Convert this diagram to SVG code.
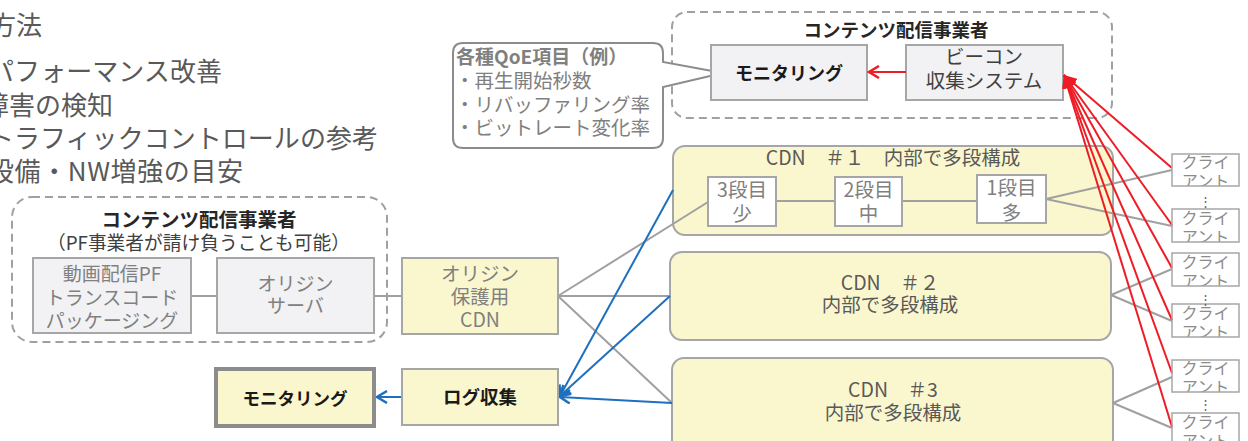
<svg xmlns="http://www.w3.org/2000/svg" width="1248" height="441" viewBox="0 0 1248 441">
<defs>
<style>
text{font-family:"Noto Sans CJK JP","Noto Sans",sans-serif;}
.c{text-anchor:middle}
.t{fill:#595959}
.g{fill:#808080}
.d{fill:#404040}
.bt{font-weight:bold;fill:#262626}
.bk{font-weight:bold;fill:#1a1a1a}
.box{stroke:#A6A6A6;stroke-width:2}
.yel{fill:#FAF7CF}
.gry{fill:#F2F2F4}
.wht{fill:#FFFFFF}
.dash{fill:none;stroke:#A0A0A0;stroke-width:2;stroke-dasharray:8 5}
.ln{stroke:#A0A0A0;stroke-width:2;fill:none}
.blue{stroke:#1F6FBF;stroke-width:2;fill:none}
.red{stroke:#EE1C25;stroke-width:2;fill:none}
.f195{font-size:19.5px}
.cl{font-size:16px;fill:#8C8C8C;text-anchor:middle}
</style>
<marker id="ab" viewBox="0 0 14 14" markerWidth="14" markerHeight="14" refX="12" refY="7" orient="auto" markerUnits="userSpaceOnUse">
<path d="M2,1 L12,7 L2,13" fill="none" stroke="#1F6FBF" stroke-width="2.5"/>
</marker>
<marker id="ar" viewBox="0 0 14 14" markerWidth="14" markerHeight="14" refX="12" refY="7" orient="auto" markerUnits="userSpaceOnUse">
<path d="M2,1 L12,7 L2,13" fill="none" stroke="#EE1C25" stroke-width="2.5"/>
</marker>
<marker id="arf" viewBox="0 0 14 12" markerWidth="14" markerHeight="12" refX="13" refY="6" orient="auto" markerUnits="userSpaceOnUse">
<path d="M0,0 L13,6 L0,12 Z" fill="#EE1C25"/>
</marker>
</defs>

<g id="heading-text" class="t" style="font-size:26px">
<text x="-10" y="35">方法</text>
<text x="-12" y="81" textLength="234" lengthAdjust="spacing">パフォーマンス改善</text>
<text x="-17" y="115" textLength="130" lengthAdjust="spacing">障害の検知</text>
<text x="-12" y="148" textLength="390" lengthAdjust="spacing">トラフィックコントロールの参考</text>
<text x="-12" y="181" textLength="255" lengthAdjust="spacing">設備・NW増強の目安</text>
</g>

<g id="top-provider">
<rect class="dash" x="672" y="12" width="440" height="106" rx="15"/>
<text class="bt c" x="896" y="37" style="font-size:18.5px">コンテンツ配信事業者</text>
</g>

<g id="qoe-callout">
<path d="M463,43 H653 Q663,43 663,53 V62 L723,73 L663,87 V138 Q663,148 653,148 H463 Q453,148 453,138 V53 Q453,43 463,43 Z" fill="#FFFFFF" stroke="#8C8C8C" stroke-width="2"/>
<text class="g" x="456" y="64" style="font-size:19px;font-weight:bold">各種QoE項目（例）</text>
<text class="g f195" x="455" y="88">・再生開始秒数</text>
<text class="g f195" x="455" y="112">・リバッファリング率</text>
<text class="g f195" x="455" y="135">・ビットレート変化率</text>
</g>

<g id="monitoring-top">
<rect class="box gry" x="711" y="45" width="156" height="55"/>
<text class="bk c" x="789" y="80" style="font-size:18px">モニタリング</text>
</g>

<g id="beacon">
<rect class="box gry" x="906" y="45" width="157" height="55"/>
<text class="d c f195" x="984" y="64">ビーコン</text>
<text class="d c f195" x="984" y="88">収集システム</text>
</g>

<g id="left-provider">
<rect class="dash" x="12" y="197" width="375" height="145" rx="20"/>
<text class="bt c" x="199" y="227" style="font-size:19.5px">コンテンツ配信事業者</text>
<text class="d" x="47" y="250" style="font-size:19px" textLength="303" lengthAdjust="spacingAndGlyphs">（PF事業者が請け負うことも可能）</text>
</g>

<g id="cdn1">
<rect class="box yel" x="673" y="146" width="440" height="89" rx="12"/>
<text class="t c f195" x="893" y="165">CDN　＃１　内部で多段構成</text>
</g>
<g id="cdn2">
<rect class="box yel" x="670" y="252" width="441" height="88" rx="12"/>
<text class="t c f195" x="890" y="290">CDN　＃２</text>
<text class="t c f195" x="890" y="312">内部で多段構成</text>
</g>
<g id="cdn3">
<rect class="box yel" x="672" y="358" width="441" height="96" rx="12"/>
<text class="t c f195" x="893" y="397">CDN　＃3</text>
<text class="t c f195" x="893" y="420">内部で多段構成</text>
</g>

<g id="connectors">
<line class="ln" x1="191" y1="296" x2="217" y2="296"/>
<line class="ln" x1="374" y1="296" x2="402" y2="296"/>
<line class="ln" x1="558" y1="296" x2="708" y2="202"/>
<line class="ln" x1="558" y1="296" x2="670" y2="296"/>
<line class="ln" x1="558" y1="296" x2="672" y2="403"/>
<line class="ln" x1="776" y1="201" x2="835" y2="201"/>
<line class="ln" x1="902" y1="201" x2="977" y2="201"/>
<line class="ln" x1="1046" y1="199" x2="1172" y2="170"/>
<line class="ln" x1="1046" y1="199" x2="1172" y2="226"/>
<line class="ln" x1="1111" y1="295" x2="1172" y2="269"/>
<line class="ln" x1="1111" y1="295" x2="1172" y2="321"/>
<line class="ln" x1="1113" y1="403" x2="1172" y2="377"/>
<line class="ln" x1="1113" y1="403" x2="1172" y2="428"/>
<line class="blue" x1="673" y1="190" x2="560" y2="396" marker-end="url(#ab)"/>
<line class="blue" x1="670" y1="296" x2="560" y2="396" marker-end="url(#ab)"/>
<line class="blue" x1="672" y1="403" x2="560" y2="397" marker-end="url(#ab)"/>
<line class="blue" x1="402" y1="397" x2="377" y2="397" marker-end="url(#ab)"/>
<line class="red" x1="906" y1="72" x2="869" y2="72" marker-end="url(#ar)"/>
<line class="red" x1="1172" y1="168" x2="1064" y2="75" marker-end="url(#arf)"/>
<line class="red" x1="1172" y1="225" x2="1064" y2="75" marker-end="url(#arf)"/>
<line class="red" x1="1172" y1="268" x2="1064" y2="75" marker-end="url(#arf)"/>
<line class="red" x1="1172" y1="320" x2="1064" y2="75" marker-end="url(#arf)"/>
<line class="red" x1="1172" y1="373" x2="1064" y2="75" marker-end="url(#arf)"/>
<line class="red" x1="1172" y1="427" x2="1064" y2="75" marker-end="url(#arf)"/>
</g>

<g id="stage3">
<rect class="box wht" x="708" y="177" width="68" height="49"/>
<text class="g c f195" x="742" y="197">3段目</text>
<text class="g c f195" x="742" y="221">少</text>
</g>
<g id="stage2">
<rect class="box wht" x="835" y="177" width="67" height="49"/>
<text class="g c f195" x="868.5" y="197">2段目</text>
<text class="g c f195" x="868.5" y="221">中</text>
</g>
<g id="stage1">
<rect class="box wht" x="977" y="175" width="69" height="48"/>
<text class="g c f195" x="1011.5" y="195">1段目</text>
<text class="g c f195" x="1011.5" y="220">多</text>
</g>

<g id="video-pf">
<rect class="box gry" x="33" y="258" width="158" height="75"/>
<text class="g c" x="112" y="281" style="font-size:19px">動画配信PF</text>
<text class="g c" x="112" y="305" style="font-size:19px">トランスコード</text>
<text class="g c" x="112" y="328" style="font-size:19px">パッケージング</text>
</g>

<g id="origin-server">
<rect class="box gry" x="217" y="258" width="157" height="75"/>
<text class="g c" x="295.5" y="291" style="font-size:19px">オリジン</text>
<text class="g c" x="295.5" y="313" style="font-size:19px">サーバ</text>
</g>

<g id="origin-cdn">
<rect class="box yel" x="402" y="258" width="156" height="76"/>
<text class="g c f195" x="480" y="281">オリジン</text>
<text class="g c f195" x="480" y="304">保護用</text>
<text class="g c f195" x="480" y="327">CDN</text>
</g>

<g id="log-collect">
<rect class="box yel" x="402" y="369" width="156" height="56"/>
<text class="bk c" x="480" y="404" style="font-size:18.5px">ログ収集</text>
</g>

<g id="monitoring-bottom">
<rect class="yel" x="216" y="369" width="158" height="57" stroke="#8C8C8C" stroke-width="4"/>
<text class="bk c" x="295" y="405" style="font-size:17.5px">モニタリング</text>
</g>

<g id="client1">
<svg x="1172" y="154" width="67" height="32"><text class="cl" x="33.5" y="14">クライ</text><text class="cl" x="33.5" y="33">アント</text></svg>
<rect class="box" fill="none" x="1172" y="154" width="67" height="32" style="stroke-width:1.5"/>
</g>
<g id="client2">
<svg x="1172" y="209" width="67" height="33"><text class="cl" x="33.5" y="15">クライ</text><text class="cl" x="33.5" y="34">アント</text></svg>
<rect class="box" fill="none" x="1172" y="209" width="67" height="33" style="stroke-width:1.5"/>
</g>
<g id="client3">
<svg x="1172" y="253" width="67" height="33"><text class="cl" x="33.5" y="15">クライ</text><text class="cl" x="33.5" y="34">アント</text></svg>
<rect class="box" fill="none" x="1172" y="253" width="67" height="33" style="stroke-width:1.5"/>
</g>
<g id="client4">
<svg x="1172" y="304" width="67" height="33"><text class="cl" x="33.5" y="15">クライ</text><text class="cl" x="33.5" y="34">アント</text></svg>
<rect class="box" fill="none" x="1172" y="304" width="67" height="33" style="stroke-width:1.5"/>
</g>
<g id="client5">
<svg x="1172" y="360" width="67" height="32"><text class="cl" x="33.5" y="14">クライ</text><text class="cl" x="33.5" y="33">アント</text></svg>
<rect class="box" fill="none" x="1172" y="360" width="67" height="32" style="stroke-width:1.5"/>
</g>
<g id="client6">
<svg x="1172" y="413" width="67" height="33"><text class="cl" x="33.5" y="15">クライ</text><text class="cl" x="33.5" y="34">アント</text></svg>
<rect class="box" fill="none" x="1172" y="413" width="67" height="33" style="stroke-width:1.5"/>
</g>

<g id="ellipses" style="font-family:'DejaVu Sans',sans-serif;font-size:13px;fill:#666666;text-anchor:middle">
<text x="1205" y="206">⋮</text>
<text x="1205" y="304">⋮</text>
<text x="1205" y="409">⋮</text>
</g>
</svg>
